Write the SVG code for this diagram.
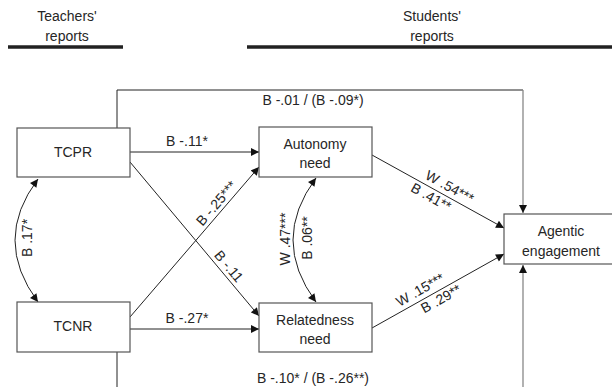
<svg xmlns="http://www.w3.org/2000/svg" width="612" height="387" viewBox="0 0 612 387">
<defs>
<style>
text{font-family:"Liberation Sans",Arial,sans-serif;font-size:14px;fill:#262626}
.c{text-anchor:middle}
.box{fill:#fff;stroke:#555;stroke-width:1.2}
.ln{fill:none;stroke:#222;stroke-width:1}
.gr{fill:none;stroke:#888;stroke-width:1.3}
.hd{stroke:#222;stroke-width:3.5}
</style>
<marker id="ah" viewBox="0 0 10 10" refX="10" refY="5" markerWidth="9" markerHeight="8" markerUnits="userSpaceOnUse" orient="auto-start-reverse">
<path d="M0,0 L10,5 L0,10 Z" fill="#111"/>
</marker>
</defs>
<g id="header">
<text class="c" x="67" y="21">Teachers'</text>
<text class="c" x="67" y="41">reports</text>
<line class="hd" x1="8" y1="47" x2="123" y2="47"/>
<text class="c" x="432" y="21">Students'</text>
<text class="c" x="432" y="41">reports</text>
<line class="hd" x1="247" y1="47" x2="612" y2="47"/>
</g>
<g id="connectors">
<polyline class="ln" points="117,128 117,90 523,90"/>
<line class="gr" x1="523" y1="90" x2="523" y2="213" marker-end="url(#ah)"/>
<line class="gr" x1="523" y1="387" x2="523" y2="265" marker-end="url(#ah)"/>
<line class="ln" x1="117" y1="352" x2="117" y2="387"/>
<line class="ln" x1="130" y1="152" x2="259" y2="152" marker-end="url(#ah)"/>
<line class="ln" x1="130" y1="329" x2="259" y2="329" marker-end="url(#ah)"/>
<line class="ln" x1="130" y1="162" x2="259" y2="316" marker-end="url(#ah)"/>
<line class="ln" x1="130" y1="317" x2="259" y2="167" marker-end="url(#ah)"/>
<line class="ln" x1="372" y1="155" x2="504" y2="228" marker-end="url(#ah)"/>
<line class="ln" x1="372" y1="328" x2="504" y2="254" marker-end="url(#ah)"/>
<path class="ln" d="M38,179 Q-8,240 38,302" marker-start="url(#ah)" marker-end="url(#ah)"/>
<path class="ln" d="M316,178 Q270,240 316,302" marker-start="url(#ah)" marker-end="url(#ah)"/>
<text class="c" x="313" y="105">B -.01 / (B -.09*)</text>
<text class="c" x="313" y="383">B -.10* / (B -.26**)</text>
<text class="c" x="187" y="146">B -.11*</text>
<text class="c" x="187" y="323">B -.27*</text>
<text class="c" transform="translate(223,209) rotate(-49.3)" y="-4">B -.25***</text>
<text class="c" transform="translate(222,272) rotate(50)" y="-4">B -.11</text>
<text class="c" transform="translate(445,195.4) rotate(28.9)" y="-5">W .54***</text>
<text class="c" transform="translate(435,189.8) rotate(28.9)" y="13">B .41**</text>
<text class="c" transform="translate(425,298.3) rotate(-29.3)" y="-5">W .15***</text>
<text class="c" transform="translate(437,291.6) rotate(-29.3)" y="13">B .29**</text>
<text class="c" transform="translate(32,238) rotate(-90)">B .17*</text>
<text class="c" transform="translate(290,239) rotate(-90)">W .47***</text>
<text class="c" transform="translate(312,238) rotate(-90)">B .06**</text>
</g>
<g id="TCPR">
<rect class="box" x="17" y="128" width="113" height="49"/>
<text class="c" x="73" y="157">TCPR</text>
</g>
<g id="TCNR">
<rect class="box" x="17" y="302" width="113" height="50"/>
<text class="c" x="73" y="331">TCNR</text>
</g>
<g id="autonomy">
<rect class="box" x="259" y="127" width="113" height="50"/>
<text class="c" x="315" y="149">Autonomy</text>
<text class="c" x="315" y="168">need</text>
</g>
<g id="relatedness">
<rect class="box" x="259" y="303" width="113" height="49"/>
<text class="c" x="315" y="325">Relatedness</text>
<text class="c" x="315" y="344">need</text>
</g>
<g id="agentic">
<rect class="box" x="504" y="214" width="114" height="50"/>
<text class="c" x="561" y="236">Agentic</text>
<text class="c" x="561" y="256">engagement</text>
</g>
</svg>
